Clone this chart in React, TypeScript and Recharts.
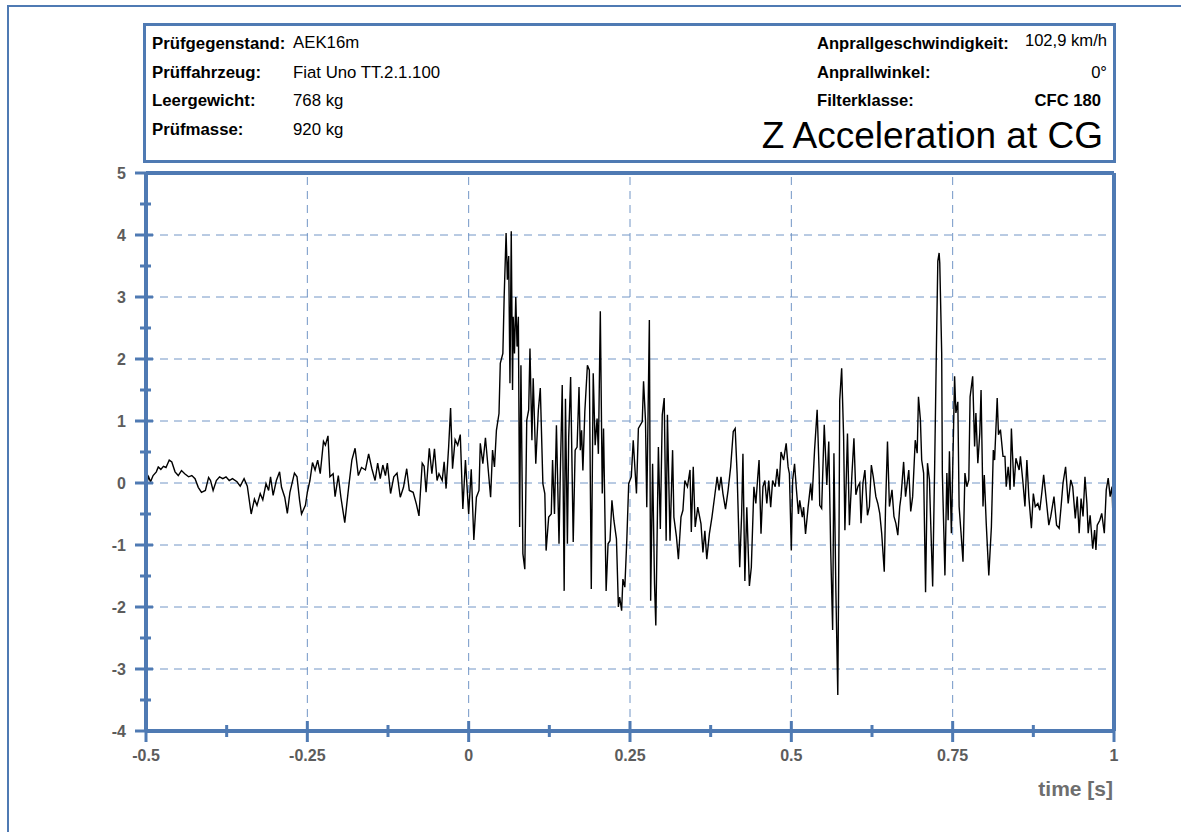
import { Line, LineChart, ReferenceLine, XAxis, YAxis } from 'recharts';

// time axis values in seconds, acceleration in g
const timeS = [
  -0.5, -0.496, -0.493, -0.489, -0.484, -0.481, -0.477, -0.473, -0.469, -0.464, -0.46, -0.455, -0.45, -0.445,
  -0.44, -0.434, -0.429, -0.424, -0.419, -0.414, -0.408, -0.403, -0.4, -0.396, -0.391, -0.386, -0.381, -0.376,
  -0.371, -0.366, -0.359, -0.354, -0.348, -0.343, -0.337, -0.332, -0.328, -0.323, -0.319, -0.314, -0.31, -0.307,
  -0.303, -0.298, -0.293, -0.29, -0.285, -0.281, -0.277, -0.27, -0.266, -0.262, -0.259, -0.253, -0.25, -0.246,
  -0.242, -0.238, -0.234, -0.23, -0.225, -0.222, -0.218, -0.215, -0.21, -0.207, -0.202, -0.198, -0.192, -0.186,
  -0.181, -0.176, -0.171, -0.166, -0.16, -0.155, -0.15, -0.145, -0.141, -0.137, -0.133, -0.129, -0.126, -0.121,
  -0.116, -0.111, -0.106, -0.101, -0.096, -0.092, -0.086, -0.081, -0.077, -0.072, -0.069, -0.066, -0.061, -0.057,
  -0.053, -0.049, -0.046, -0.041, -0.038, -0.035, -0.031, -0.028, -0.025, -0.021, -0.017, -0.013, -0.009, -0.005,
  0.0, 0.004, 0.008, 0.012, 0.016, 0.018, 0.022, 0.026, 0.029, 0.034, 0.037, 0.04, 0.043, 0.047, 0.049, 0.053,
  0.055, 0.058, 0.06, 0.062, 0.064, 0.066, 0.068, 0.069, 0.071, 0.073, 0.075, 0.077, 0.079, 0.081, 0.084, 0.087,
  0.09, 0.093, 0.095, 0.098, 0.1, 0.104, 0.108, 0.111, 0.115, 0.118, 0.12, 0.124, 0.128, 0.13, 0.133, 0.136,
  0.14, 0.142, 0.145, 0.148, 0.15, 0.153, 0.155, 0.158, 0.162, 0.165, 0.168, 0.171, 0.173, 0.175, 0.177, 0.18,
  0.184, 0.187, 0.19, 0.193, 0.196, 0.199, 0.201, 0.204, 0.207, 0.209, 0.213, 0.216, 0.219, 0.222, 0.225, 0.229,
  0.232, 0.234, 0.237, 0.239, 0.242, 0.245, 0.248, 0.252, 0.255, 0.26, 0.263, 0.269, 0.271, 0.274, 0.276, 0.28,
  0.282, 0.285, 0.288, 0.29, 0.294, 0.297, 0.3, 0.303, 0.306, 0.308, 0.312, 0.316, 0.318, 0.322, 0.325, 0.329,
  0.332, 0.335, 0.339, 0.343, 0.345, 0.348, 0.351, 0.355, 0.36, 0.363, 0.366, 0.369, 0.373, 0.377, 0.381, 0.385,
  0.388, 0.391, 0.394, 0.398, 0.402, 0.406, 0.41, 0.413, 0.416, 0.42, 0.423, 0.425, 0.428, 0.431, 0.435, 0.438,
  0.442, 0.445, 0.448, 0.45, 0.453, 0.456, 0.459, 0.462, 0.465, 0.468, 0.471, 0.475, 0.478, 0.481, 0.484, 0.488,
  0.492, 0.495, 0.497, 0.5, 0.502, 0.505, 0.508, 0.511, 0.513, 0.517, 0.519, 0.522, 0.526, 0.53, 0.532, 0.536,
  0.54, 0.543, 0.544, 0.547, 0.551, 0.555, 0.558, 0.561, 0.564, 0.566, 0.569, 0.572, 0.574, 0.575, 0.578, 0.581,
  0.583, 0.587, 0.59, 0.594, 0.597, 0.6, 0.603, 0.606, 0.608, 0.611, 0.614, 0.618, 0.621, 0.624, 0.627, 0.631,
  0.634, 0.637, 0.64, 0.644, 0.646, 0.649, 0.652, 0.656, 0.659, 0.662, 0.665, 0.668, 0.67, 0.674, 0.677, 0.682,
  0.685, 0.688, 0.692, 0.695, 0.697, 0.7, 0.702, 0.705, 0.708, 0.711, 0.714, 0.716, 0.719, 0.722, 0.725, 0.727,
  0.729, 0.73, 0.733, 0.734, 0.738, 0.741, 0.743, 0.745, 0.748, 0.751, 0.753, 0.755, 0.758, 0.76, 0.763, 0.766,
  0.769, 0.772, 0.775, 0.777, 0.781, 0.784, 0.786, 0.789, 0.792, 0.794, 0.797, 0.799, 0.802, 0.806, 0.81, 0.813,
  0.815, 0.819, 0.821, 0.824, 0.828, 0.831, 0.833, 0.836, 0.839, 0.841, 0.845, 0.848, 0.853, 0.855, 0.859, 0.862,
  0.865, 0.868, 0.872, 0.875, 0.878, 0.882, 0.885, 0.888, 0.891, 0.895, 0.899, 0.902, 0.907, 0.911, 0.915, 0.918,
  0.921, 0.925, 0.929, 0.933, 0.936, 0.94, 0.943, 0.946, 0.949, 0.952, 0.955, 0.958, 0.96, 0.963, 0.967, 0.97,
  0.972, 0.974, 0.978, 0.981, 0.985, 0.988, 0.991, 0.994, 0.997, 0.999, 1.0,
];

const accelG = [
  -0.05, 0.1, 0.02, 0.12, 0.18, 0.26, 0.22, 0.27, 0.25, 0.37, 0.34, 0.18, 0.12, 0.2,
  0.15, 0.1, 0.12, 0.07, -0.07, -0.15, -0.12, 0.09, 0.04, -0.12, 0.04, 0.1, 0.07, 0.1,
  0.04, 0.07, 0.02, -0.05, 0.07, -0.05, -0.5, -0.26, -0.36, -0.17, -0.27, -0.01, -0.12, 0.1,
  -0.2, 0.04, 0.18, -0.07, -0.23, -0.49, -0.15, 0.16, 0.1, -0.28, -0.5, -0.36, -0.15, 0.04,
  0.33, 0.21, 0.37, 0.15, 0.67, 0.61, 0.76, 0.1, 0.15, -0.22, 0.12, -0.23, -0.64, -0.07,
  0.37, 0.56, 0.12, 0.25, 0.21, 0.47, 0.23, 0.04, 0.32, 0.07, 0.29, 0.12, 0.32, -0.17,
  0.1, 0.16, -0.23, -0.07, 0.23, -0.12, -0.15, -0.34, -0.53, 0.32, 0.27, -0.15, 0.56, 0.15,
  0.55, 0.04, 0.15, 0.04, 0.34, -0.09, 0.59, 1.21, 0.23, 0.7, 0.61, 0.78, -0.42, 0.37,
  -0.5, 0.22, -0.92, -0.23, -0.12, 0.64, 0.31, 0.73, 0.37, -0.23, 0.53, 0.26, 0.85, 1.12, 1.93, 2.09,
  3.0, 4.03, 3.28, 3.66, 1.61, 4.06, 1.5, 2.68, 2.09, 3.0, 2.2, 2.68, -0.71, 1.9, -1.14, -1.39,
  1.01, 1.18, 2.17, 0.69, 1.69, 0.31, 1.18, 1.53, -0.01, -0.17, -1.09, -0.55, -0.5, 0.37, -0.5, 0.93,
  -0.98, 0.15, 1.58, -1.74, 1.36, -0.98, 0.74, 1.71, -0.95, 0.53, 0.58, 1.55, 0.53, 0.85, 0.2, 1.15,
  1.9, 1.82, -1.71, 1.77, 0.61, 1.04, 0.47, 2.77, -0.17, 0.88, -1.74, -0.98, -0.93, -0.28, -0.6, -0.9,
  -2.0, -1.84, -2.06, -1.55, -1.68, -0.93, -0.01, 0.1, 0.69, -0.17, 0.88, 0.99, 1.64, 1.01, -0.39, 2.63,
  -1.9, 0.31, -1.63, -2.3, 0.58, -0.74, 1.1, 1.37, -0.93, 1.1, -0.93, 0.53, -0.55, -0.87, -1.23, -0.55,
  -0.44, 0.04, -0.06, 0.21, -0.79, 0.26, -0.71, -0.39, -0.66, -1.12, -0.77, -1.23, -0.82, -0.55, -0.23, 0.1,
  -0.12, 0.1, -0.17, -0.42, -0.12, 0.26, 0.83, 0.88, 0.15, -1.36, -0.5, 0.47, -1.58, -0.39, -1.66, -1.36,
  -0.06, -0.33, 0.1, 0.37, -0.82, -0.06, 0.04, -0.33, 0.04, -0.39, 0.04, -0.06, 0.23, -0.06, 0.5, 0.37,
  0.64, 0.26, 0.15, -1.09, 0.04, 0.31, -0.12, -0.5, -0.28, -0.55, -0.39, -0.82, -0.39, -0.01, -0.28, 0.53,
  1.18, 0.21, -0.36, -0.41, 0.94, -0.03, 0.67, -1.08, -2.37, 0.48, -1.73, -3.42, -0.6, 1.34, 1.85, 0.75,
  -0.76, 0.8, -0.68, 0.16, 0.72, -0.19, -0.06, 0.0, -0.65, 0.0, 0.21, -0.52, -0.38, 0.29, 0.1, -0.22,
  -0.33, -0.49, -0.81, -1.43, -0.38, 0.67, -0.38, -0.11, -0.54, -0.65, -0.84, -0.38, -0.22, 0.34, -0.22, 0.21,
  -0.46, -0.22, 0.69, 0.48, 1.39, 1.02, 0.37, 0.16, -1.76, 0.32, 0.05, -0.65, -1.67, 0.21, 2.31, 3.58,
  3.71, 3.55, 2.09, 0.16, -1.49, 0.16, -0.6, 0.51, -0.81, 0.69, 1.72, 1.13, 1.31, -0.38, -0.81, -1.27,
  0.16, -0.06, 0.05, 1.39, 1.72, 0.59, 1.13, 0.32, 0.8, 1.5, -0.38, 0.13, -0.65, -1.49, -0.71, 0.53,
  0.37, 1.37, 0.78, 0.86, 0.43, 0.43, -0.06, 0.26, -0.11, 0.88, -0.06, 0.4, 0.21, 0.43, 0.0, -0.38,
  0.37, -0.22, -0.73, -0.17, -0.38, -0.33, -0.44, -0.17, 0.13, -0.27, -0.68, -0.54, -0.22, -0.68, -0.73, -0.38,
  0.0, 0.26, -0.33, 0.05, -0.06, -0.57, -0.22, -0.81, -0.25, -0.54, 0.1, -0.33, -0.81, -0.52, -1.06, -0.76,
  -1.08, -0.68, -0.6, -0.49, -0.81, -0.11, 0.08, -0.22, -0.06, -0.79, -0.44,
];

const xTicks = [-0.5, -0.375, -0.25, -0.125, 0, 0.125, 0.25, 0.375, 0.5, 0.625, 0.75, 0.875, 1];
const yTicks = [-4, -3.5, -3, -2.5, -2, -1.5, -1, -0.5, 0, 0.5, 1, 1.5, 2, 2.5, 3, 3.5, 4, 4.5, 5];
const xGrid = [-0.25, 0, 0.25, 0.5, 0.75];
const yGrid = [-3, -2, -1, 0, 1, 2, 3, 4];

const headerLeft = [
  ['Prüfgegenstand:', 'AEK16m'],
  ['Prüffahrzeug:', 'Fiat Uno TT.2.1.100'],
  ['Leergewicht:', '768 kg'],
  ['Prüfmasse:', '920 kg'],
];
const headerRight = [
  ['Anprallgeschwindigkeit:', '102,9 km/h'],
  ['Anprallwinkel:', '0°'],
  ['Filterklasse:', 'CFC 180'],
];
const chartTitle = 'Z Acceleration at CG';
const xAxisTitle = 'time [s]';

const data = timeS.map((t, i) => ({ t, a: accelG[i] }));

const BLUE = '#4f7ab3';
const GRID = '#7296c6';
const LABEL = '#5c5c5c';
const FONT = '"Liberation Sans", Arial, sans-serif';

function YTick(props: any) {
  const { x, y, payload } = props;
  const major = Number.isInteger(payload.value);
  return (
    <g>
      <line x1={x - (major ? 11 : 6)} x2={x + (major ? 7 : 5)} y1={y} y2={y} stroke={BLUE} strokeWidth={3} />
      {major && (
        <text x={x - 20} y={y + 6} textAnchor="end" fill={LABEL} fontSize={16} fontWeight="bold" fontFamily={FONT}>
          {payload.value}
        </text>
      )}
    </g>
  );
}

function XTick(props: any) {
  const { x, y, payload } = props;
  const major = Number.isInteger(payload.value * 4);
  return (
    <g>
      <line x1={x} x2={x} y1={y - (major ? 10 : 6)} y2={y + (major ? 11 : 6)} stroke={BLUE} strokeWidth={3} />
      {major && (
        <text x={x} y={y + 30} textAnchor="middle" fill={LABEL} fontSize={16} fontWeight="bold" fontFamily={FONT}>
          {payload.value}
        </text>
      )}
    </g>
  );
}

export default function App() {
  return (
    <div style={{ position: 'fixed', left: 0, top: 0, width: 1190, height: 832, overflow: 'hidden', background: '#fff' }}>
      <div
        style={{
          position: 'absolute',
          left: 7,
          top: 5,
          width: 1174,
          height: 900,
          borderTop: `2px solid ${BLUE}`,
          borderLeft: `2px solid ${BLUE}`,
          boxSizing: 'border-box',
        }}
      />
      <div
        style={{
          position: 'absolute',
          left: 143,
          top: 23,
          width: 973,
          height: 140,
          border: `3px solid ${BLUE}`,
          boxSizing: 'border-box',
        }}
      />
      <svg width={1190} height={832} style={{ position: 'absolute', left: 0, top: 0 }} fontFamily={FONT}>
        {headerLeft.map(([label, value], i) => (
          <g key={label}>
            <text x={152} y={49 + i * 28.5} fontSize={16.8} fontWeight="bold" fill="#000">
              {label}
            </text>
            <text x={293} y={(i === 0 ? 48 : 49) + i * 28.5} fontSize={16.8} fill="#000">
              {value}
            </text>
          </g>
        ))}
        {headerRight.map(([label, value], i) => (
          <g key={label}>
            <text x={817} y={49 + i * 28.5} fontSize={16.6} fontWeight="bold" fill="#000">
              {label}
            </text>
            <text
              x={i === 2 ? 1101 : 1107}
              y={(i === 0 ? 46 : 49) + i * 28.5}
              textAnchor="end"
              fontSize={16.6}
              fontWeight={i === 2 ? 'bold' : 'normal'}
              fill="#000"
            >
              {value}
            </text>
          </g>
        ))}
        <text x={1103} y={148} textAnchor="end" fontSize={37} fill="#000">
          {chartTitle}
        </text>
        <text x={1113} y={796} textAnchor="end" fontSize={21} fontWeight="bold" fill="#6e6e6e">
          {xAxisTitle}
        </text>
      </svg>
      <div style={{ position: 'absolute', left: 0, top: 0 }}>
        <LineChart width={1190} height={832} data={data} margin={{ top: 173, right: 76, bottom: 61, left: 106 }}>
          {xGrid.map((v) => (
            <ReferenceLine key={`gx${v}`} x={v} stroke={GRID} strokeWidth={1} strokeDasharray="8 6" />
          ))}
          {yGrid.map((v) => (
            <ReferenceLine key={`gy${v}`} y={v} stroke={GRID} strokeWidth={1} strokeDasharray="8 6" />
          ))}
          <XAxis
            type="number"
            dataKey="t"
            domain={[-0.5, 1]}
            ticks={xTicks}
            interval={0}
            height={40}
            tickSize={0}
            tickMargin={0}
            tickLine={false}
            axisLine={{ stroke: BLUE, strokeWidth: 4 }}
            tick={<XTick />}
          />
          <YAxis
            type="number"
            domain={[-4, 5]}
            ticks={yTicks}
            interval={0}
            width={40}
            tickSize={0}
            tickMargin={0}
            tickLine={false}
            axisLine={{ stroke: BLUE, strokeWidth: 4 }}
            tick={<YTick />}
          />
          <Line
            type="linear"
            dataKey="a"
            stroke="#000"
            strokeWidth={1.4}
            dot={false}
            isAnimationActive={false}
          />
          <ReferenceLine y={5} stroke={BLUE} strokeWidth={4} />
          <ReferenceLine x={1} stroke={BLUE} strokeWidth={4} />
        </LineChart>
      </div>
    </div>
  );
}
